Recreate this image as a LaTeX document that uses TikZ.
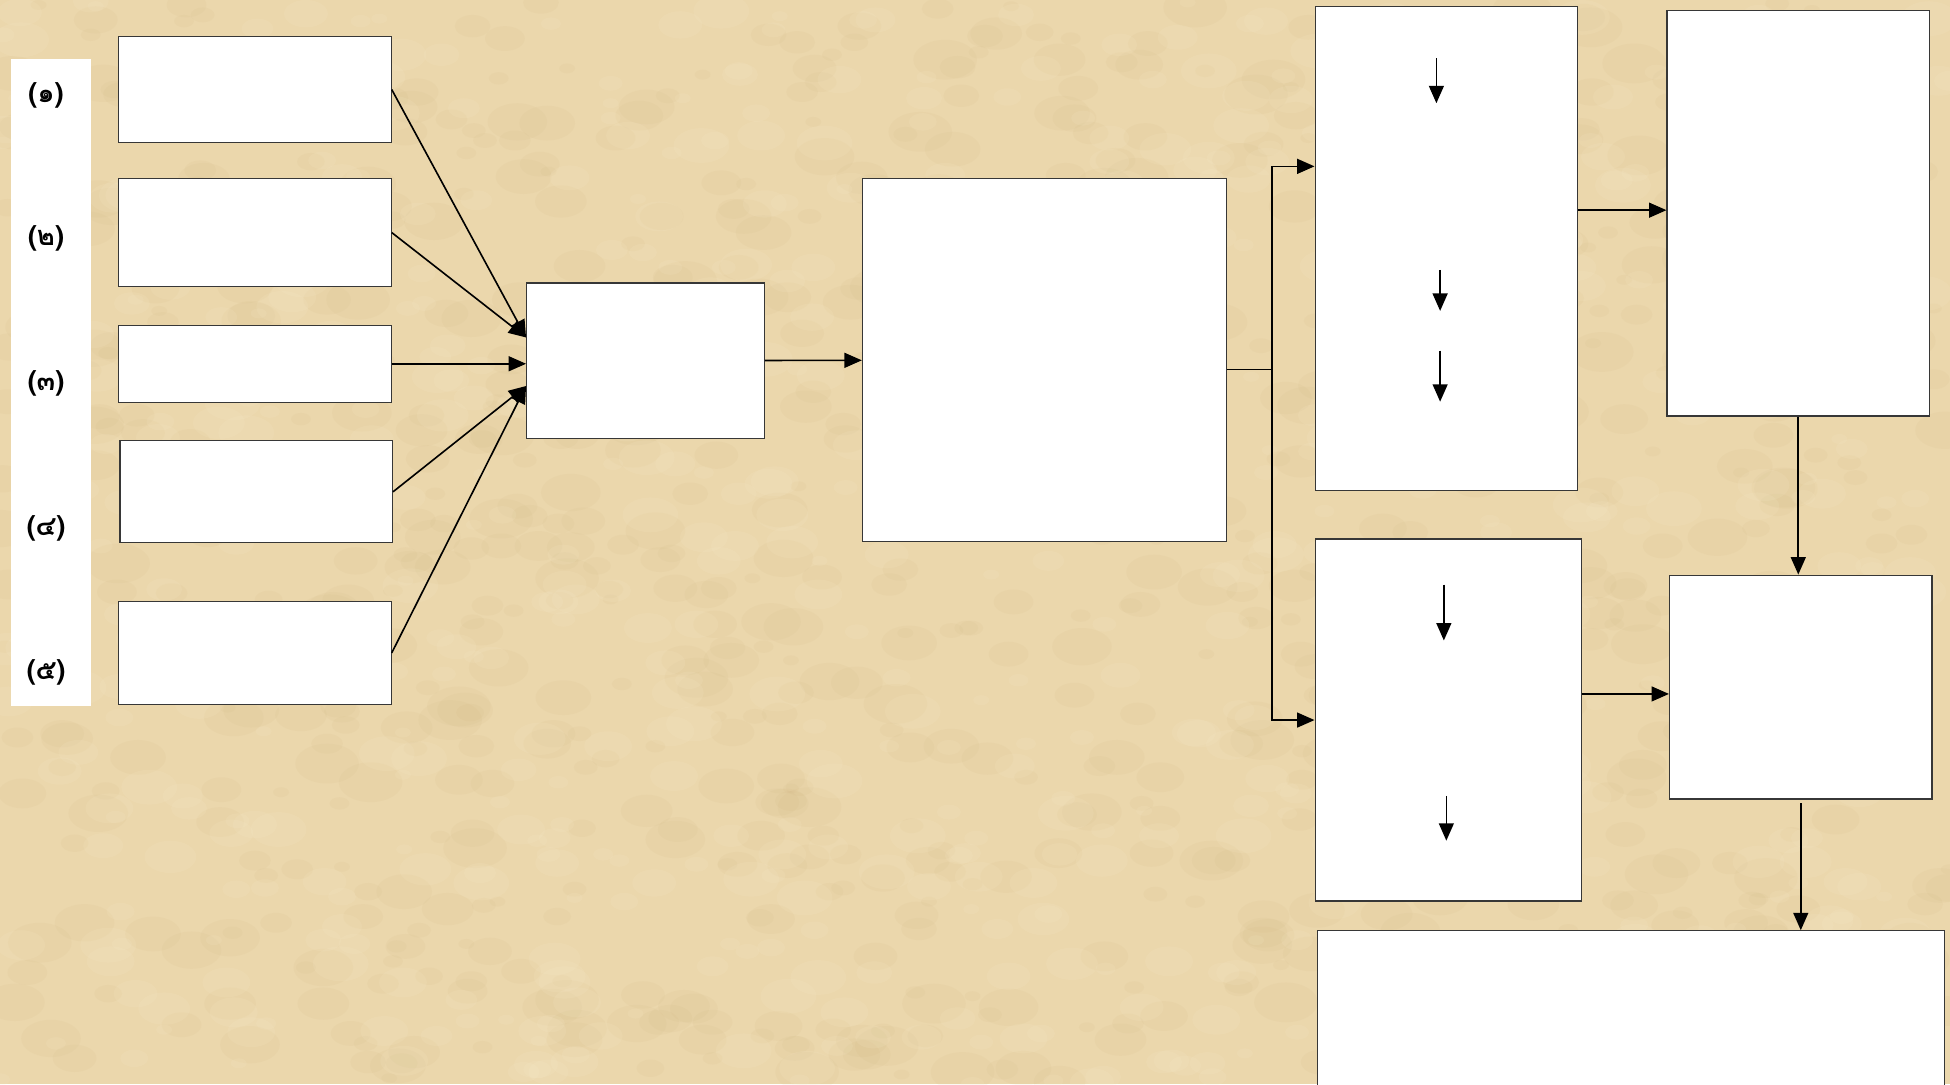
\documentclass[tikz,border=0pt]{standalone}
\usepackage{fontspec}
\newfontfamily\thaifont[Script=Thai]{Loma}
\usetikzlibrary{arrows.meta,positioning}
\definecolor{parchment}{RGB}{235,215,172}
\definecolor{parchdark}{RGB}{200,170,115}
\definecolor{parchlight}{RGB}{250,238,208}
\definecolor{boxline}{RGB}{55,55,55}
\begin{document}
\begin{tikzpicture}[x=1pt,y=-1pt,
    box/.style={draw=boxline,fill=white,line width=1pt,anchor=north west,inner sep=0pt},
    link/.style={draw,line width=1.3pt,-{Triangle[length=14pt,width=12pt]}},
    num/.style={font=\thaifont\bfseries\fontsize{22}{26}\selectfont}]
    % background
    \fill[parchment] (0,0) rectangle (1568,872);
    \useasboundingbox (0,0) rectangle (1568,872);
    \clip (0,0) rectangle (1568,872);
    \pgfmathsetseed{11}
    \foreach \k in {1,...,900}{
        \pgfmathsetmacro\px{random(0,1568)}
        \pgfmathsetmacro\py{random(0,872)}
        \pgfmathsetmacro\pr{random(4,16)}
        \fill[parchdark,opacity=0.07] (\px,\py) ellipse[x radius=\pr*1.6,y radius=\pr];
    }
    \foreach \k in {1,...,700}{
        \pgfmathsetmacro\px{random(0,1568)}
        \pgfmathsetmacro\py{random(0,872)}
        \pgfmathsetmacro\pr{random(4,14)}
        \fill[parchlight,opacity=0.12] (\px,\py) ellipse[x radius=\pr*1.6,y radius=\pr];
    }
    % numbers
    \node[box,draw=none,minimum width=65pt,minimum height=520pt] (strip) at (8,47) {};
    \node[num] (n1) at (37,77) {(๑)};
    \node[num] (n2) at (37,192) {(๒)};
    \node[num] (n3) at (37,308) {(๓)};
    \node[num] (n4) at (37,425) {(๔)};
    \node[num] (n5) at (37,541) {(๕)};
    % boxes
    \node[box,minimum width=219pt,minimum height=85pt] (s1) at (95,29) {};
    \node[box,minimum width=219pt,minimum height=87pt] (s2) at (95,143) {};
    \node[box,minimum width=219pt,minimum height=62pt] (s3) at (95,261) {};
    \node[box,minimum width=219pt,minimum height=82pt] (s4) at (96,354) {};
    \node[box,minimum width=219pt,minimum height=83pt] (s5) at (95,483) {};
    \node[box,minimum width=191pt,minimum height=125pt] (c) at (423,227) {};
    \node[box,minimum width=293pt,minimum height=292pt] (m) at (693,143) {};
    \node[box,minimum width=211pt,minimum height=389pt] (r1) at (1057,5) {};
    \node[box,minimum width=214pt,minimum height=291pt] (r2) at (1057,433) {};
    \node[box,minimum width=211pt,minimum height=326pt] (t1) at (1340,8) {};
    \node[box,minimum width=211pt,minimum height=180pt] (t2) at (1342,462) {};
    \node[box,minimum width=504pt,minimum height=140pt] (bot) at (1059,748) {};
    % connectors
    \draw[link] (s1.east) -- (c.169);
    \draw[link] (s2.east) -- (c.169);
    \draw[link] (s3.east) -- (s3.east -| c.west);
    \draw[link] (s4.east) -- (c.192);
    \draw[link] (s5.east) -- (c.192);
    \draw[link] (c) -- (m);
    \coordinate (split) at (1023,297);
    \draw[line width=1.3pt] (m.east |- split) -- (split);
    \draw[link] (split) |- (r1.148);
    \draw[link] (split) |- (r2.west);
    \draw[link] (r1.east |- 0,169) -- (t1.west |- 0,169);
    \draw[link] (t1.south) -- (t1.south |- t2.north);
    \draw[link] (r2.east |- 0,558) -- (t2.west |- 0,558);
    \draw[link,shorten <=3pt] (t2.south) -- (t2.south |- bot.north);
    % arrows inside
    \foreach \x/\y/\l [count=\i] in {1155/47/36, 1158/217/33, 1158/282/41, 1161/470/45, 1163/640/36}{
        \coordinate (top\i) at (\x,\y);
        \coordinate (tip\i) at (\x,\y+\l);
        \draw[link] (top\i) -- (tip\i);
    }
\end{tikzpicture}
\end{document}
